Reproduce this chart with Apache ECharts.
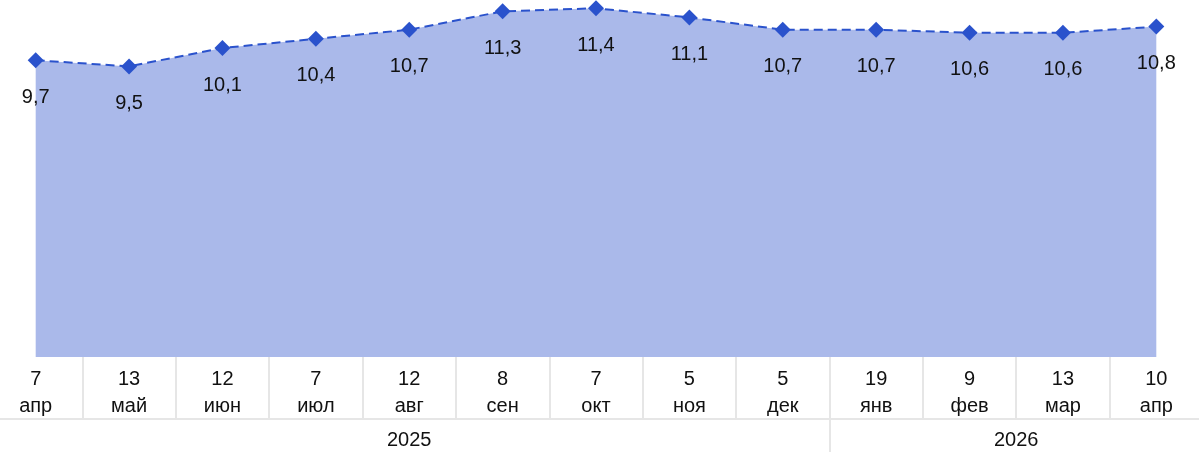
<!DOCTYPE html>
<html>
<head>
<meta charset="utf-8">
<script src="https://cdn.jsdelivr.net/npm/echarts@6/dist/echarts.min.js"></script>
<style>
  html, body { margin: 0; padding: 0; background: #fff; }
  #chart { width: 1199px; height: 452px; }
</style>
</head>
<body>
<div id="chart"></div>
<script>
// Survey dates (day, month) and values
const days = ['7', '13', '12', '7', '12', '8', '7', '5', '5', '19', '9', '13', '10'];
const months = ['апр', 'май', 'июн', 'июл', 'авг', 'сен', 'окт', 'ноя', 'дек', 'янв', 'фев', 'мар', 'апр'];
const values = [9.7, 9.5, 10.1, 10.4, 10.7, 11.3, 11.4, 11.1, 10.7, 10.7, 10.6, 10.6, 10.8];
// Year groups along the lower axis and how many dates each one covers
const years = ['2025', '2026'];
const yearSpans = [9, 4];

const categories = days.map((d, i) => d + '\n' + months[i]);

// Positions of year labels (centre of each group) and group boundaries, in category units
const yearCenters = [];
const yearBounds = [];
let acc = 0;
yearSpans.forEach((n, i) => {
  yearCenters.push(acc + n / 2);
  acc += n;
  if (i < yearSpans.length - 1) yearBounds.push(acc);
});

const FONT = '"Liberation Sans", Arial, sans-serif';
const GRID_COLOR = '#e6e6e6';

const chart = echarts.init(document.getElementById('chart'), null, { renderer: 'canvas' });

chart.setOption({
  backgroundColor: '#ffffff',
  animation: false,
  // Bands extend half a step past the chart edges so the first and last points sit near the borders
  grid: { left: -11, width: 1214, top: 0, height: 357, outerBoundsMode: 'none', containLabel: false },
  xAxis: [
    {
      type: 'category',
      data: categories,
      boundaryGap: true,
      axisLine: { show: false },
      axisTick: { show: true, length: 62, lineStyle: { color: GRID_COLOR, width: 2 } },
      axisLabel: {
        color: '#111',
        fontFamily: FONT,
        fontSize: 20,
        lineHeight: 27,
        margin: 9,
        interval: 0
      },
      splitLine: { show: false }
    },
    {
      // Year row beneath the dates
      type: 'value',
      min: 0,
      max: categories.length,
      position: 'bottom',
      offset: 62,
      axisLine: { show: true, lineStyle: { color: GRID_COLOR, width: 2 } },
      axisTick: {
        show: true,
        customValues: yearBounds,
        length: 40,
        lineStyle: { color: GRID_COLOR, width: 2 }
      },
      axisLabel: {
        customValues: yearCenters,
        formatter: (v) => {
          const idx = yearCenters.indexOf(v);
          return idx >= 0 ? years[idx] : '';
        },
        color: '#111',
        fontFamily: FONT,
        fontSize: 20,
        margin: 11
      },
      splitLine: { show: false }
    }
  ],
  yAxis: {
    type: 'value',
    min: 0,
    max: 11.67,
    show: false,
    splitLine: { show: false }
  },
  series: [
    {
      type: 'line',
      data: values,
      xAxisIndex: 0,
      yAxisIndex: 0,
      clip: false,
      symbol: 'diamond',
      symbolSize: 16,
      itemStyle: { color: '#2a52cc' },
      lineStyle: { color: '#2a52cc', width: 2, type: [9, 5] },
      areaStyle: { color: '#aab9ea', opacity: 1 },
      label: {
        show: true,
        position: 'bottom',
        distance: 19,
        color: '#111',
        fontFamily: FONT,
        fontSize: 20,
        formatter: (p) => String(p.value).replace('.', ',')
      }
    }
  ]
});
</script>
</body>
</html>
